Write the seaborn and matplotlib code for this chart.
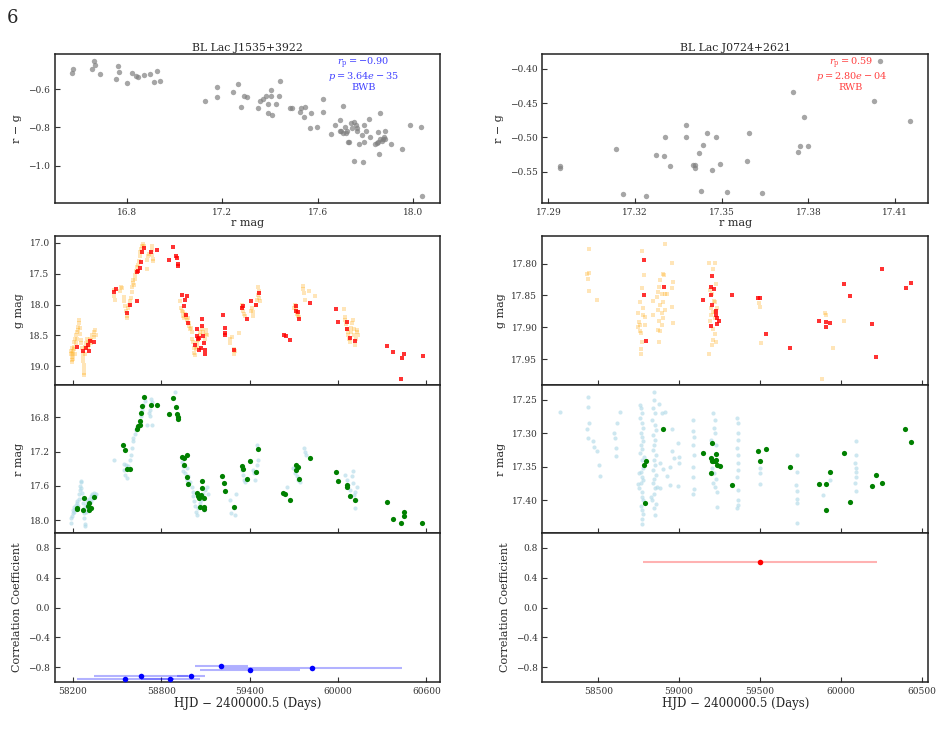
import matplotlib
matplotlib.use('Agg')
import matplotlib.pyplot as plt
import seaborn as sns
import numpy as np

sns.set_theme(style='ticks')
plt.rcParams['font.family'] = ['DejaVu Serif']
plt.rcParams['mathtext.fontset'] = 'dejavuserif'
plt.rcParams['xtick.direction'] = 'in'
plt.rcParams['ytick.direction'] = 'in'
plt.rcParams['axes.linewidth'] = 1.1
plt.rcParams['axes.edgecolor'] = '#222222'

# ---------------- BL Lac J1535+3922 ----------------
# colour-magnitude points
j1535_rmag = [16.571, 16.575, 16.655, 16.662, 16.667, 16.686, 16.755, 16.765, 16.769, 16.801,
              16.821, 16.839, 16.845, 16.873, 16.898, 16.914, 16.928, 16.938, 17.128, 17.177,
              17.177, 17.245, 17.266, 17.279, 17.290, 17.305, 17.350, 17.358, 17.369, 17.382,
              17.394, 17.394, 17.403, 17.407, 17.404, 17.426, 17.442, 17.440, 17.484, 17.493,
              17.524, 17.531, 17.542, 17.545, 17.574, 17.569, 17.598, 17.622, 17.623, 17.658,
              17.672, 17.693, 17.693, 17.700, 17.708, 17.708, 17.714, 17.721, 17.725, 17.728,
              17.732, 17.738, 17.746, 17.752, 17.752, 17.760, 17.766, 17.767, 17.773, 17.789,
              17.784, 17.796, 17.796, 17.803, 17.816, 17.821, 17.842, 17.847, 17.852, 17.852,
              17.858, 17.860, 17.863, 17.870, 17.874, 17.877, 17.881, 17.884, 17.908, 17.954,
              17.986, 18.035, 18.039]
j1535_color = [-0.516, -0.493, -0.495, -0.453, -0.474, -0.521, -0.547, -0.477, -0.507, -0.565,
               -0.512, -0.532, -0.533, -0.526, -0.518, -0.560, -0.505, -0.556, -0.663, -0.589,
               -0.640, -0.612, -0.574, -0.693, -0.635, -0.642, -0.700, -0.660, -0.653, -0.635,
               -0.679, -0.726, -0.632, -0.732, -0.604, -0.675, -0.554, -0.635, -0.696, -0.696,
               -0.718, -0.700, -0.746, -0.691, -0.725, -0.805, -0.798, -0.651, -0.719, -0.835,
               -0.789, -0.761, -0.819, -0.819, -0.689, -0.828, -0.796, -0.828, -0.819, -0.877,
               -0.877, -0.774, -0.805, -0.770, -0.975, -0.786, -0.819, -0.805, -0.889, -0.982,
               -0.837, -0.789, -0.877, -0.819, -0.754, -0.851, -0.889, -0.881, -0.874, -0.826,
               -0.937, -0.863, -0.723, -0.872, -0.863, -0.849, -0.861, -0.819, -0.886, -0.914,
               -0.786, -0.798, -1.161]

# g band, sparse (red squares)
j1535_g_mjd = [58229, 58270, 58288, 58299, 58306, 58313, 58345, 58478, 58489, 58568,
               58586, 58636, 58636, 58643, 58652, 58659, 58668, 58684, 58731, 58772,
               58855, 58880, 58901, 58907, 58916, 58916, 58941, 58955, 58964, 58977,
               58968, 58982, 59043, 59043, 59054, 59048, 59032, 59059, 59072, 59077,
               59079, 59084, 59088, 59095, 59097, 59219, 59233, 59233, 59233, 59296,
               59350, 59355, 59382, 59409, 59443, 59463, 59633, 59644, 59674, 59712,
               59716, 59728, 59734, 59809, 59985, 59999, 60058, 60062, 60078, 60114,
               60329, 60372, 60426, 60437, 60449, 60575]
j1535_g_mag = [18.687, 18.747, 18.709, 18.660, 18.747, 18.585, 18.601, 17.792, 17.755, 18.138,
               18.008, 17.943, 17.480, 17.453, 17.404, 17.318, 17.146, 17.081, 17.146, 17.113,
               17.275, 17.065, 17.210, 17.243, 17.340, 17.377, 17.841, 18.024, 17.927, 17.863,
               18.175, 18.294, 18.391, 18.504, 18.536, 18.563, 18.650, 18.731, 18.709, 18.235,
               18.342, 18.504, 18.617, 18.731, 18.801, 18.175, 18.375, 18.456, 18.493, 18.731,
               18.051, 18.024, 18.229, 17.938, 18.003, 17.809, 18.488, 18.504, 18.569, 18.019,
               18.100, 18.116, 18.229, 17.970, 18.067, 18.278, 18.278, 18.391, 18.536, 18.585,
               18.666, 18.763, 19.200, 18.860, 18.795, 18.828]

# g band, dense survey (light orange squares)
j1535_gz_mjd = [58189, 58190, 58191, 58192, 58193, 58195, 58196, 58198, 58200, 58202,
                58205, 58208, 58210, 58212, 58215, 58218, 58222, 58226, 58230, 58234,
                58236, 58240, 58243, 58245, 58248, 58252, 58258, 58262, 58265, 58267,
                58270, 58272, 58274, 58276, 58278, 58280, 58284, 58290, 58295, 58300,
                58305, 58310, 58315, 58320, 58326, 58332, 58340, 58345, 58350, 58355,
                58476, 58480, 58488, 58520, 58525, 58535, 58545, 58550, 58555, 58560,
                58565, 58568, 58572, 58578, 58585, 58592, 58598, 58602, 58606, 58610,
                58612, 58618, 58622, 58628, 58634, 58640, 58646, 58652, 58658, 58664,
                58670, 58675, 58680, 58700, 58705, 58710, 58715, 58735, 58738, 58740,
                58742, 58745,
                58930, 58935, 58940, 58945, 58950, 58955, 58962, 58968, 58972, 58978,
                58985, 58990, 58995, 59000, 59005, 59010, 59015, 59020, 59025, 59030,
                59035, 59040, 59045, 59050, 59060, 59065, 59075, 59085, 59095, 59100,
                59105, 59110,
                59265, 59268, 59283, 59290, 59296, 59300, 59330,
                59345, 59350, 59355, 59360, 59365, 59410, 59415, 59420, 59425, 59440,
                59450, 59455, 59460, 59465, 59470, 59458,
                59700, 59706, 59712, 59718, 59722, 59728, 59735, 59760, 59765, 59770,
                59775, 59800, 59845,
                60040, 60045, 60050, 60055, 60060, 60065, 60070, 60075, 60080, 60085,
                60090, 60095, 60100, 60105, 60110, 60115, 60120, 60125, 60130, 60135]
j1535_gz_mag = [18.75, 18.80, 18.85, 18.90, 18.93, 18.78, 18.70, 18.82, 18.88, 18.76,
                18.68, 18.60, 18.72, 18.80, 18.55, 18.62, 18.50, 18.55, 18.45, 18.42,
                18.36, 18.30, 18.25, 18.38, 18.48, 18.58, 18.62, 18.70, 18.78, 18.85,
                18.92, 18.98, 19.05, 19.10, 19.14, 18.80, 18.68, 18.62, 18.55, 18.70,
                18.60, 18.66, 18.55, 18.63, 18.58, 18.50, 18.52, 18.45, 18.42, 18.50,
                17.77, 17.87, 17.92, 17.78, 17.72, 17.74, 17.88, 17.95, 18.02, 18.10,
                18.18, 18.22, 18.05, 18.00, 17.95, 17.90, 17.80, 17.72, 17.65, 17.60,
                17.68, 17.58, 17.52, 17.45, 17.40, 17.36, 17.30, 17.22, 17.15, 17.10,
                17.06, 17.02, 17.05, 17.42, 17.28, 17.22, 17.18, 17.05, 17.12, 17.20,
                17.26, 17.30,
                17.95, 18.05, 18.10, 18.12, 18.18, 18.22, 18.15, 18.20, 18.25, 18.22,
                18.30, 18.35, 18.40, 18.38, 18.45, 18.55, 18.60, 18.70, 18.78, 18.82,
                18.72, 18.62, 18.68, 18.58, 18.50, 18.45, 18.40, 18.45, 18.55, 18.42,
                18.48, 18.50,
                18.55, 18.62, 18.52, 18.72, 18.80, 18.76, 18.46,
                18.00, 18.06, 18.10, 18.15, 18.18, 18.10, 18.05, 18.12, 18.18, 18.00,
                17.92, 17.85, 17.78, 17.90, 17.95, 17.72,
                18.05, 18.00, 18.08, 18.12, 18.16, 18.18, 18.20, 17.75, 17.70, 17.82,
                17.93, 17.78, 17.86,
                18.08, 18.20, 18.25, 18.32, 18.40, 18.45, 18.50, 18.55, 18.60, 18.45,
                18.38, 18.30, 18.25, 18.40, 18.50, 18.65, 18.55, 18.45, 18.42, 18.50]

# r band, sparse (green circles)
j1535_r_mjd = [58227, 58229, 58272, 58270, 58299, 58308, 58306, 58320, 58342, 58539,
               58555, 58566, 58586, 58638, 58645, 58652, 58657, 58661, 58668, 58681,
               58731, 58774, 58855, 58878, 58901, 58905, 58912, 58910, 58941, 58955,
               58975, 58955, 58971, 58982, 59043, 59048, 59054, 59061, 59075, 59075,
               59072, 59090, 59093, 59090, 59215, 59228, 59233, 59292, 59348, 59357,
               59380, 59405, 59441, 59459, 59628, 59640, 59674, 59714, 59714, 59726,
               59735, 59809, 59985, 59999, 60058, 60062, 60080, 60112, 60329, 60372,
               60424, 60444, 60449, 60571]
j1535_r_mag = [17.872, 17.856, 17.747, 17.883, 17.841, 17.798, 17.883, 17.856, 17.728, 17.122,
               17.177, 17.402, 17.402, 16.932, 16.905, 16.889, 16.839, 16.753, 16.664, 16.567,
               16.652, 16.660, 16.765, 16.571, 16.684, 16.765, 16.796, 16.819, 17.262, 17.270,
               17.243, 17.359, 17.495, 17.577, 17.689, 17.713, 17.744, 17.848, 17.538, 17.623,
               17.705, 17.744, 17.852, 17.868, 17.480, 17.569, 17.658, 17.845, 17.367, 17.398,
               17.518, 17.305, 17.441, 17.173, 17.689, 17.693, 17.771, 17.359, 17.414, 17.382,
               17.526, 17.278, 17.437, 17.538, 17.588, 17.619, 17.716, 17.763, 17.794, 17.984,
               18.035, 17.957, 17.903, 18.035]

# r band, dense survey (light blue circles)
j1535_rz_mjd = [58186, 58190, 58194, 58198, 58202, 58206, 58210, 58215, 58220, 58225,
                58230, 58236, 58240, 58244, 58247, 58250, 58252, 58255, 58258, 58262,
                58265, 58268, 58272, 58275, 58278, 58281, 58284, 58288, 58292, 58298,
                58303, 58308, 58314, 58320, 58326, 58332, 58338, 58345, 58350, 58356,
                58478, 58544, 58548, 58555, 58566, 58577, 58584, 58593, 58600, 58607,
                58611, 58561,
                58623, 58629, 58638, 58652, 58661, 58670, 58679, 58688, 58713, 58720,
                58724, 58731, 58738, 58736, 58702, 58892,
                58939, 58946, 58950, 58962, 58973, 58984, 58996, 59007, 59014, 59018,
                59023, 59029, 59036, 59041, 59052, 59063, 59070, 59086, 59097, 59108,
                59115, 59090, 58973,
                59274, 59290, 59301, 59305, 59267,
                59346, 59353, 59362, 59368, 59425, 59432, 59438, 59448, 59452, 59459,
                59696, 59707, 59719, 59730, 59741, 59768, 59775, 59780, 59651,
                60046, 60058, 60069, 60080, 60092, 60098, 60103, 60110, 60117, 60125,
                60121, 60114]
j1535_rz_mag = [18.03, 17.98, 17.95, 17.92, 17.88, 17.90, 17.85, 17.87, 17.82, 17.80,
                17.78, 17.83, 17.75, 17.70, 17.65, 17.60, 17.56, 17.54, 17.62, 17.68,
                17.74, 17.80, 17.86, 17.92, 17.98, 18.04, 18.07, 17.90, 17.82, 17.78,
                17.86, 17.75, 17.80, 17.72, 17.78, 17.70, 17.74, 17.68, 17.72, 17.70,
                17.30, 17.34, 17.41, 17.47, 17.51, 17.37, 17.30, 17.24, 17.16, 17.08,
                17.04, 17.36,
                16.99, 16.95, 16.91, 16.85, 16.79, 16.72, 16.66, 16.61, 16.75, 16.79,
                16.71, 16.59, 16.62, 16.89, 16.89, 16.50,
                17.32, 17.37, 17.43, 17.45, 17.39, 17.49, 17.55, 17.61, 17.67, 17.72,
                17.78, 17.84, 17.90, 17.94, 17.86, 17.80, 17.76, 17.70, 17.65, 17.61,
                17.69, 17.88, 17.53,
                17.92, 17.86, 17.94, 17.69, 17.76,
                17.41, 17.47, 17.53, 17.55, 17.41, 17.45, 17.53, 17.36, 17.12, 17.30,
                17.39, 17.45, 17.49, 17.53, 17.56, 17.16, 17.20, 17.24, 17.61,
                17.47, 17.53, 17.59, 17.65, 17.49, 17.43, 17.57, 17.71, 17.67, 17.61,
                17.76, 17.86]

# running colour-magnitude correlation
j1535_corr_mjd = [58555, 58662, 58861, 58999, 59208, 59400, 59824]
j1535_corr_val = [-0.953, -0.918, -0.953, -0.915, -0.786, -0.840, -0.813]
j1535_corr_span = [330, 320, 200, 95, 180, 340, 611]

# ---------------- BL Lac J0724+2621 ----------------
j0724_rmag = [17.294, 17.294, 17.3134, 17.316, 17.3237, 17.3272, 17.3299, 17.3304, 17.3321, 17.3378,
              17.3378, 17.3401, 17.3407, 17.3407, 17.3422, 17.3430, 17.3434, 17.3449, 17.3467, 17.3479,
              17.3495, 17.3517, 17.3587, 17.3593, 17.3641, 17.3747, 17.3763, 17.3770, 17.3786, 17.3800,
              17.4026, 17.4048, 17.4153]
j0724_color = [-0.542, -0.544, -0.517, -0.582, -0.586, -0.526, -0.527, -0.500, -0.542, -0.482,
               -0.499, -0.540, -0.540, -0.544, -0.523, -0.578, -0.511, -0.494, -0.548, -0.500,
               -0.539, -0.579, -0.534, -0.494, -0.581, -0.434, -0.522, -0.513, -0.470, -0.513,
               -0.447, -0.389, -0.476]

j0724_g_mjd = [58782, 58780, 58795, 58906, 59147, 59195, 59203, 59195, 59216, 59201,
               59199, 59228, 59228, 59232, 59234, 59244, 59327, 59486, 59500, 59535,
               59686, 59865, 59906, 59906, 59933, 60018, 60055, 60191, 60216, 60255,
               60401, 60432]
j0724_g_mag = [17.794, 17.849, 17.921, 17.836, 17.857, 17.849, 17.819, 17.837, 17.840, 17.865,
               17.898, 17.874, 17.880, 17.885, 17.894, 17.890, 17.849, 17.854, 17.854, 17.910,
               17.932, 17.890, 17.892, 17.899, 17.893, 17.832, 17.851, 17.895, 17.946, 17.808,
               17.838, 17.830]

j0724_gz_mjd = [58440, 58442, 58432, 58434, 58442, 58490,
                58768, 58770, 58774, 58778, 58747, 58751, 58758, 58762, 58768, 58764,
                58762, 58789, 58789, 58782, 58747, 58760, 58756,
                58912, 58908, 58902, 58882, 58878, 58871, 58892, 58912, 58861, 58882,
                58892, 58871, 58898, 58912, 58892, 58871, 58878, 58836, 58923, 58954,
                58964, 58958, 58960, 58956, 58836, 58885, 58900, 58875,
                59187, 59222, 59211, 59226, 59191, 59201, 59222, 59195, 59207, 59222,
                59191, 59211, 59222, 59207, 59228, 59201, 59187, 59234, 59222, 59195,
                59215,
                59496, 59500, 59506, 59904, 59908, 59884, 59954, 60020]
j0724_gz_mag = [17.778, 17.815, 17.816, 17.824, 17.843, 17.857,
                17.780, 17.839, 17.869, 17.881, 17.878, 17.891, 17.896, 17.909, 17.922, 17.933,
                17.942, 17.896, 17.883, 17.818, 17.899, 17.860, 17.905,
                17.770, 17.818, 17.817, 17.826, 17.836, 17.844, 17.847, 17.848, 17.852, 17.865,
                17.878, 17.873, 17.886, 17.873, 17.896, 17.904, 17.923, 17.859, 17.847, 17.839,
                17.829, 17.868, 17.893, 17.799, 17.880, 17.905, 17.860, 17.890,
                17.799, 17.799, 17.809, 17.832, 17.842, 17.847, 17.860, 17.870, 17.876, 17.886,
                17.890, 17.902, 17.911, 17.920, 17.922, 17.927, 17.941, 17.870, 17.876, 17.880,
                17.858,
                17.861, 17.868, 17.924, 17.877, 17.880, 17.980, 17.932, 17.890]

j0724_r_mjd = [58902, 58782, 58795, 58787, 59145, 59203, 59195, 59195, 59201, 59211,
               59222, 59226, 59228, 59236, 59251, 59325, 59488, 59498, 59535, 59686,
               59865, 59906, 59906, 59933, 60020, 60055, 60191, 60218, 60257, 60399,
               60432]
j0724_r_mag = [17.294, 17.347, 17.342, 17.404, 17.329, 17.315, 17.337, 17.359, 17.341, 17.341,
               17.342, 17.331, 17.340, 17.347, 17.349, 17.378, 17.326, 17.342, 17.323, 17.351,
               17.376, 17.376, 17.415, 17.358, 17.329, 17.402, 17.379, 17.363, 17.374, 17.293,
               17.313]

j0724_rz_mjd = [58263, 58434, 58434, 58444, 58428, 58438, 58465, 58473, 58490, 58506,
                58510, 58597, 58603, 58608, 58610, 58614, 58634,
                58760, 58765, 58772, 58758, 58768, 58775, 58762, 58770, 58778, 58765,
                58773, 58760, 58780, 58768, 58775, 58762, 58770, 58778, 58765, 58755,
                58772, 58768, 58778, 58762, 58770, 58775, 58768, 58772, 58750, 58745,
                58842, 58845, 58838, 58850, 58835, 58848, 58855, 58840, 58852, 58845,
                58838, 58856, 58842, 58850, 58836, 58858, 58845, 58840, 58852, 58846,
                58835, 58855, 58842, 58848, 58828, 58862,
                58875, 58892, 58912, 58954, 58958, 58968, 58943, 58923, 58943, 58995,
                58999, 58999, 58995, 58885, 58880, 58900,
                59085, 59088, 59090, 59086, 59092, 59088, 59085, 59090, 59087,
                59210, 59220, 59215, 59225, 59200, 59230, 59205, 59218, 59228, 59210,
                59222, 59232, 59236,
                59360, 59364, 59362, 59366, 59360, 59364, 59362, 59366, 59360, 59364,
                59362, 59366, 59360,
                59500, 59503, 59498,
                59727, 59730, 59725, 59732, 59728, 59730, 59727,
                60092, 60095, 60090, 60095, 60092, 60096, 60090, 60094,
                59892, 59934]
j0724_rz_mag = [17.268, 17.246, 17.261, 17.284, 17.294, 17.307, 17.312, 17.320, 17.327, 17.347,
                17.364, 17.299, 17.307, 17.322, 17.334, 17.284, 17.269,
                17.258, 17.263, 17.270, 17.278, 17.285, 17.292, 17.300, 17.306, 17.312, 17.318,
                17.324, 17.330, 17.335, 17.340, 17.352, 17.358, 17.365, 17.370, 17.375, 17.382,
                17.388, 17.395, 17.400, 17.408, 17.415, 17.420, 17.428, 17.436, 17.360, 17.376,
                17.238, 17.250, 17.262, 17.270, 17.280, 17.288, 17.295, 17.302, 17.310, 17.318,
                17.325, 17.332, 17.340, 17.348, 17.355, 17.362, 17.368, 17.375, 17.382, 17.390,
                17.400, 17.405, 17.412, 17.422, 17.395, 17.380,
                17.257, 17.270, 17.268, 17.294, 17.327, 17.337, 17.350, 17.364, 17.377, 17.314,
                17.335, 17.344, 17.379, 17.382, 17.345, 17.353,
                17.280, 17.296, 17.305, 17.318, 17.332, 17.350, 17.366, 17.383, 17.390,
                17.270, 17.280, 17.292, 17.300, 17.310, 17.318, 17.352, 17.360, 17.368, 17.375,
                17.380, 17.388, 17.410,
                17.278, 17.285, 17.300, 17.310, 17.322, 17.333, 17.345, 17.355, 17.365, 17.385,
                17.400, 17.407, 17.412,
                17.352, 17.360, 17.376,
                17.332, 17.358, 17.378, 17.386, 17.398, 17.404, 17.434,
                17.312, 17.332, 17.345, 17.352, 17.358, 17.365, 17.375, 17.387,
                17.392, 17.370]

j0724_corr_mjd = [59500]
j0724_corr_val = [0.611]
j0724_corr_span = [722]

# ---------------- figure ----------------
fig = plt.figure(figsize=(9.4, 7.35), dpi=100)
fig.text(0.007, 0.988, '6', fontsize=13, va='top', ha='left')

cols = [0.058, 0.5769]
w = 0.4106
rows = {'cm': (0.7238, 0.2027), 'g': (0.4762, 0.2027), 'r': (0.2748, 0.2014), 'c': (0.0721, 0.2027)}

tick_fs = 6.5
lab_fs = 8


def style(ax):
    ax.tick_params(axis='both', labelsize=tick_fs, length=3.5, width=0.8, colors='#333333',
                   top=False, right=False)
    for s in ax.spines.values():
        s.set_linewidth(1.1)
        s.set_color('#222222')


sources = [
    dict(name='BL Lac J1535+3922', cm=(j1535_rmag, j1535_color),
         g=(j1535_g_mjd, j1535_g_mag), gz=(j1535_gz_mjd, j1535_gz_mag),
         r=(j1535_r_mjd, j1535_r_mag), rz=(j1535_rz_mjd, j1535_rz_mag),
         corr=(j1535_corr_mjd, j1535_corr_val, j1535_corr_span),
         text='$r_{\\rm p} = -0.90$\n$p = 3.64e-35$\nBWB', tcol='blue',
         xlim=(58075, 60695), xticks=[58200, 58800, 59400, 60000, 60600],
         cm_xticks=[16.8, 17.2, 17.6, 18.0], cm_yticks=[-0.6, -0.8, -1.0],
         cm_fmt='{:.1f}', cm_yfmt='{:.1f}', cm_xlim=(16.497, 18.115), cm_ylim=(-1.197, -0.414),
         g_ylim=(19.302, 16.892), g_yticks=[17.0, 17.5, 18.0, 18.5, 19.0], g_fmt='{:.1f}',
         r_ylim=(18.151, 16.423), r_yticks=[16.8, 17.2, 17.6, 18.0], r_fmt='{:.1f}'),
    dict(name='BL Lac J0724+2621', cm=(j0724_rmag, j0724_color),
         g=(j0724_g_mjd, j0724_g_mag), gz=(j0724_gz_mjd, j0724_gz_mag),
         r=(j0724_r_mjd, j0724_r_mag), rz=(j0724_rz_mjd, j0724_rz_mag),
         corr=(j0724_corr_mjd, j0724_corr_val, j0724_corr_span),
         text='$r_{\\rm p} = 0.59$\n$p = 2.80e-04$\nRWB', tcol='red',
         xlim=(58154, 60541), xticks=[58500, 59000, 59500, 60000, 60500],
         cm_xticks=[17.29, 17.32, 17.35, 17.38, 17.41], cm_yticks=[-0.40, -0.45, -0.50, -0.55],
         cm_fmt='{:.2f}', cm_yfmt='{:.2f}', cm_xlim=(17.2879, 17.4215), cm_ylim=(-0.5957, -0.3786),
         g_ylim=(17.990, 17.757), g_yticks=[17.80, 17.85, 17.90, 17.95], g_fmt='{:.2f}',
         r_ylim=(17.449, 17.228), r_yticks=[17.25, 17.30, 17.35, 17.40], r_fmt='{:.2f}'),
]

for left, src in zip(cols, sources):
    # colour-magnitude diagram
    ax = fig.add_axes([left, rows['cm'][0], w, rows['cm'][1]])
    sns.scatterplot(x=src['cm'][0], y=src['cm'][1], ax=ax, color='gray', alpha=0.7,
                    s=15, linewidth=0)
    ax.set_xlim(*src['cm_xlim'])
    ax.set_ylim(*src['cm_ylim'])
    ax.set_xticks(src['cm_xticks'])
    ax.set_xticklabels([src['cm_fmt'].format(v) for v in src['cm_xticks']])
    ax.set_yticks(src['cm_yticks'])
    ax.set_yticklabels([src['cm_yfmt'].format(v).replace('-', '\u2212') for v in src['cm_yticks']])
    ax.set_title(src['name'], fontsize=7.8, pad=2)
    ax.set_xlabel('r mag', fontsize=lab_fs, labelpad=1)
    ax.set_ylabel('r \u2212 g', fontsize=lab_fs)
    ax.text(0.8, 0.99, src['text'], transform=ax.transAxes, ha='center', va='top',
            fontsize=7, color=src['tcol'], alpha=0.75, linespacing=0.95)
    style(ax)

    # g band light curve
    axg = fig.add_axes([left, rows['g'][0], w, rows['g'][1]])
    sns.scatterplot(x=src['gz'][0], y=src['gz'][1], ax=axg, color='orange', marker='s',
                    alpha=0.28, s=9, linewidth=0)
    sns.scatterplot(x=src['g'][0], y=src['g'][1], ax=axg, color='red', marker='s',
                    alpha=0.8, s=10, linewidth=0)
    axg.set_xlim(*src['xlim'])
    axg.set_ylim(*src['g_ylim'])
    axg.set_xticks(src['xticks'])
    axg.set_xticklabels([])
    axg.set_yticks(src['g_yticks'])
    axg.set_yticklabels([src['g_fmt'].format(v) for v in src['g_yticks']])
    axg.set_ylabel('g mag', fontsize=lab_fs)
    style(axg)

    # r band light curve
    axr = fig.add_axes([left, rows['r'][0], w, rows['r'][1]])
    sns.scatterplot(x=src['rz'][0], y=src['rz'][1], ax=axr, color='lightblue',
                    alpha=0.6, s=9, linewidth=0)
    sns.scatterplot(x=src['r'][0], y=src['r'][1], ax=axr, color='green',
                    s=14, linewidth=0)
    axr.set_xlim(*src['xlim'])
    axr.set_ylim(*src['r_ylim'])
    axr.set_xticks(src['xticks'])
    axr.set_xticklabels([])
    axr.set_yticks(src['r_yticks'])
    axr.set_yticklabels([src['r_fmt'].format(v) for v in src['r_yticks']])
    axr.set_ylabel('r mag', fontsize=lab_fs)
    style(axr)

    # running correlation
    axc = fig.add_axes([left, rows['c'][0], w, rows['c'][1]])
    cx, cy, cs = src['corr']
    axc.errorbar(cx, cy, xerr=cs, fmt='none', ecolor=src['tcol'], alpha=0.3,
                 elinewidth=1.5, capsize=0)
    sns.scatterplot(x=cx, y=cy, ax=axc, color=src['tcol'], s=16, linewidth=0, zorder=3)
    axc.set_xlim(*src['xlim'])
    axc.set_ylim(-1.0, 1.0)
    axc.set_xticks(src['xticks'])
    axc.set_xticklabels([str(v) for v in src['xticks']])
    axc.set_yticks([-0.8, -0.4, 0.0, 0.4, 0.8])
    axc.set_yticklabels(['\u22120.8', '\u22120.4', '0.0', '0.4', '0.8'])
    axc.set_ylabel('Correlation Coefficient', fontsize=lab_fs)
    axc.set_xlabel('HJD \u2212 2400000.5 (Days)', fontsize=8.5, labelpad=1)
    style(axc)

fig.savefig('out.png', dpi=100)
